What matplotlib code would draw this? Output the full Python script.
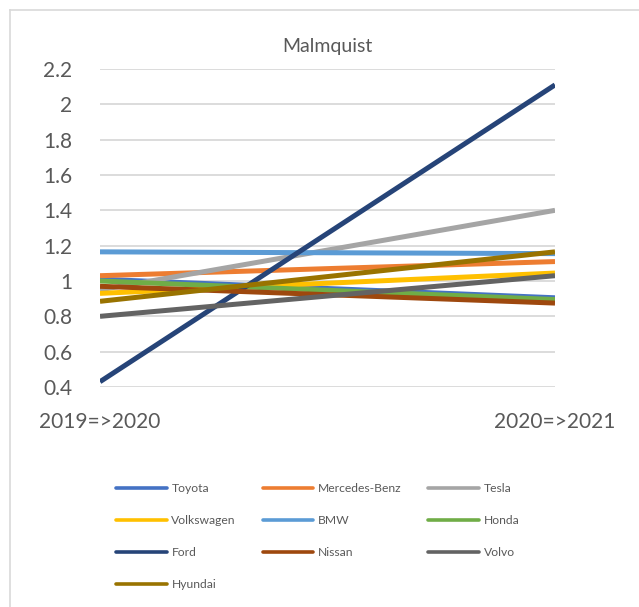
import matplotlib
matplotlib.use('Agg')
import matplotlib.pyplot as plt
from matplotlib.lines import Line2D

plt.rcParams['font.family'] = ['Lato', 'DejaVu Sans']

periods = ['2019=>2020', '2020=>2021']
brands = ['Toyota', 'Mercedes-Benz', 'Tesla', 'Volkswagen', 'BMW',
          'Honda', 'Ford', 'Nissan', 'Volvo', 'Hyundai']
first = [1.01, 1.03, 0.95, 0.93, 1.165, 1.00, 0.43, 0.97, 0.80, 0.885]
second = [0.905, 1.11, 1.40, 1.045, 1.155, 0.895, 2.11, 0.875, 1.03, 1.165]
colors = ['#4472C4', '#ED7D31', '#A5A5A5', '#FFC000', '#5B9BD5',
          '#70AD47', '#264478', '#9E480E', '#636363', '#997300']

fig = plt.figure(figsize=(6.39, 6.07), dpi=100)
ax = fig.add_axes([100/639, 1 - 387/607, 455/639, 318/607])

handles = {}
for name, a, b, c in zip(brands, first, second, colors):
    ax.plot(periods, [a, b], color=c, lw=3.6, solid_capstyle='butt')
    handles[name] = Line2D([], [], color=c, lw=2.6, solid_capstyle='round')

ax.set_xlim(0, 1)
ax.set_ylim(0.4, 2.2)
ax.set_yticks([0.4, 0.6, 0.8, 1, 1.2, 1.4, 1.6, 1.8, 2, 2.2])
ax.set_yticklabels(['0.4', '0.6', '0.8', '1', '1.2', '1.4', '1.6', '1.8', '2', '2.2'])
ax.grid(axis='y', color='#d9d9d9', lw=1.3)
ax.set_axisbelow(True)
for s in ax.spines.values():
    s.set_visible(False)
ax.tick_params(length=0, labelsize=15, labelcolor='#595959')
ax.tick_params(axis='y', pad=20)
ax.tick_params(axis='x', pad=18)
ax.set_title('Malmquist', fontsize=14, color='#595959', pad=12)

# legend is filled column by column, so reorder to get Excel's row order
order = ['Toyota', 'Volkswagen', 'Ford', 'Hyundai', 'Mercedes-Benz', 'BMW',
         'Nissan', 'Tesla', 'Honda', 'Volvo']
fig.legend([handles[n] for n in order], order, loc='upper left',
           bbox_to_anchor=(105/639, 1 - 472/607), ncol=3, frameon=False,
           fontsize=8.7, labelcolor='#595959', handlelength=4.2,
           handletextpad=0.4, columnspacing=2.2, labelspacing=1.75)

# chart border (only top and left edges visible)
fig.add_artist(Line2D([10/639, 10/639], [0, 1 - 10/607], color='#d9d9d9', lw=1.2))
fig.add_artist(Line2D([10/639, 1], [1 - 10/607, 1 - 10/607], color='#d9d9d9', lw=1.2))

fig.savefig('out.png', dpi=100)
